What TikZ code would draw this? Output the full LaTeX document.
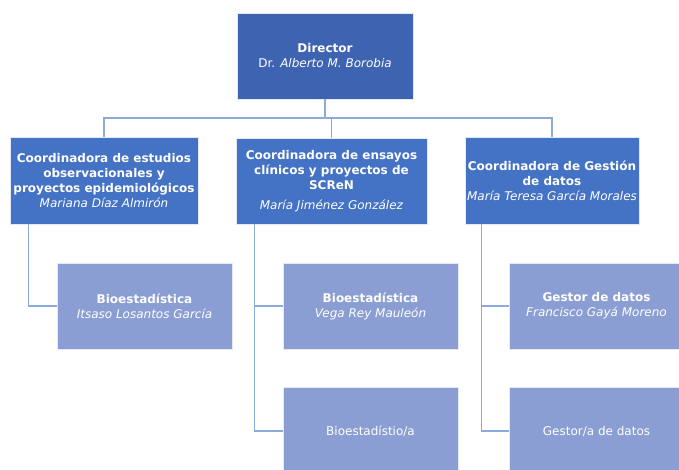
\documentclass[tikz,border=0pt]{standalone}
\usepackage{fontspec}
\setmainfont{DejaVu Sans}
\definecolor{dirblue}{HTML}{3E63B1}
\definecolor{coblue}{HTML}{4472C4}
\definecolor{lightbox}{HTML}{8A9ED3}
\definecolor{linecol}{HTML}{8EA9DB}
\tikzset{
  box/.style={draw=white!85!coblue, line width=0.8pt, text=white, align=center, inner sep=0pt,
    font=\fontsize{12}{15}\selectfont},
  dirbox/.style={box, fill=dirblue},
  cobox/.style={box, fill=coblue},
  subbox/.style={box, fill=lightbox},
  conn/.style={draw=linecol, line width=1.5pt}
}
\begin{document}
\begin{tikzpicture}[x=1pt,y=-1pt]
\useasboundingbox (0,0) rectangle (679,470);
\clip (0,0) rectangle (679,470);
\node[dirbox, minimum width=176pt, minimum height=86pt] (d) at (325,56)
  {\textbf{Director}\\Dr. \textit{Alberto M. Borobia}};
\node[cobox, minimum width=188pt, minimum height=87pt] (c1) at (104,180.5)
  {\textbf{Coordinadora de estudios}\\\textbf{observacionales y}\\\textbf{proyectos epidemiológicos}\\\textit{Mariana Díaz Almirón}};
\node[cobox, minimum width=191pt, minimum height=86pt] (c2) at (331.5,181)
  {\textbf{Coordinadora de ensayos}\\\textbf{clínicos y proyectos de}\\\textbf{SCReN}\\[5pt]\textit{María Jiménez González}};
\node[cobox, minimum width=174pt, minimum height=87pt] (c3) at (552,180.5)
  {\textbf{Coordinadora de Gestión}\\\textbf{de datos}\\\textit{María Teresa García Morales}};
\node[subbox, minimum width=175pt, minimum height=86pt] (b1) at (144.5,306)
  {\textbf{Bioestadística}\\\textit{Itsaso Losantos García}};
\node[subbox, minimum width=175pt, minimum height=86pt] (b2) at (370.5,306)
  {\textbf{Bioestadística}\\\textit{Vega Rey Mauleón}};
\node[subbox, minimum width=175pt, minimum height=88pt] (g2) at (370.5,431)
  {Bioestadístio/a};
\node[subbox, minimum width=175pt, minimum height=86pt] (b3) at (596.5,306)
  {\textbf{Gestor de datos}\\\textit{Francisco Gayá Moreno}};
\node[subbox, minimum width=175pt, minimum height=88pt] (g3) at (596.5,431)
  {Gestor/a de datos};
\coordinate (bar) at (325,118);
\draw[conn] (d.south) -- (bar);
\draw[conn] (bar) -| (c1.north);
\draw[conn] (bar) -| (c3.north);
\draw[conn] (c2.north) -- (c2.north |- bar);
\draw[conn] ([xshift=19pt]c1.south west) |- (b1.west);
\draw[conn] ([xshift=19pt]c2.south west) |- (b2.west);
\draw[conn] ([xshift=19pt]c2.south west) |- (g2.west);
\draw[conn] ([xshift=17pt]c3.south west) |- (b3.west);
\draw[conn] ([xshift=17pt]c3.south west) |- (g3.west);
\end{tikzpicture}
\end{document}
